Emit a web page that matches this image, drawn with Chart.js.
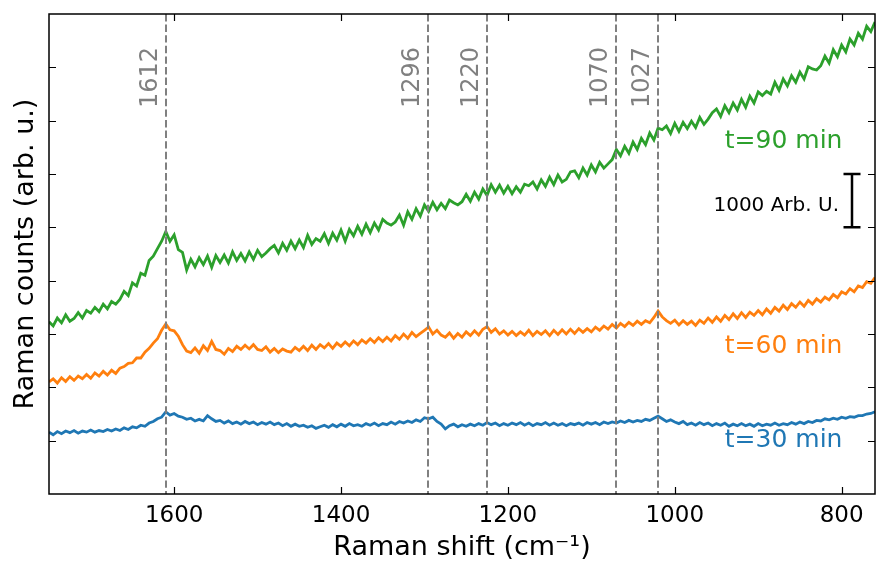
<!DOCTYPE html>
<html>
<head>
<meta charset="utf-8">
<script src="https://cdn.jsdelivr.net/npm/chart.js@4"></script>
<style>
html,body{margin:0;padding:0;background:#fff;}
#wrap{width:876px;height:564px;}
</style>
</head>
<body>
<div id="wrap"><canvas id="chart" width="876" height="564"></canvas></div>
<script>

/* DATA */

// Raman shift, cm-1 (one point every 5 cm-1)
let shift = [
1750,1745,1740,1735,1730,1725,1720,1715,1710,1705,
1700,1695,1690,1685,1680,1675,1670,1665,1660,1655,
1650,1645,1640,1635,1630,1625,1620,1615,1610,1605,
1600,1595,1590,1585,1580,1575,1570,1565,1560,1555,
1550,1545,1540,1535,1530,1525,1520,1515,1510,1505,
1500,1495,1490,1485,1480,1475,1470,1465,1460,1455,
1450,1445,1440,1435,1430,1425,1420,1415,1410,1405,
1400,1395,1390,1385,1380,1375,1370,1365,1360,1355,
1350,1345,1340,1335,1330,1325,1320,1315,1310,1305,
1300,1295,1290,1285,1280,1275,1270,1265,1260,1255,
1250,1245,1240,1235,1230,1225,1220,1215,1210,1205,
1200,1195,1190,1185,1180,1175,1170,1165,1160,1155,
1150,1145,1140,1135,1130,1125,1120,1115,1110,1105,
1100,1095,1090,1085,1080,1075,1070,1065,1060,1055,
1050,1045,1040,1035,1030,1025,1020,1015,1010,1005,
1000,995,990,985,980,975,970,965,960,955,
950,945,940,935,930,925,920,915,910,905,
900,895,890,885,880,875,870,865,860,855,
850,845,840,835,830,825,820,815,810,805,
800,795,790,785,780,775,770,765,760
];

let t30 = [
1160,1110,1170,1130,1180,1150,1190,1140,1180,1160,
1200,1160,1190,1170,1210,1180,1220,1190,1240,1210,
1260,1240,1290,1270,1330,1360,1410,1440,1540,1480,
1510,1460,1440,1400,1420,1370,1400,1370,1470,1410,
1360,1380,1330,1370,1320,1350,1310,1360,1320,1350,
1300,1340,1310,1350,1300,1330,1280,1320,1270,1310,
1270,1290,1250,1280,1230,1260,1290,1250,1300,1260,
1310,1270,1320,1280,1300,1270,1320,1290,1330,1280,
1320,1300,1350,1310,1360,1330,1370,1340,1390,1360,
1430,1410,1440,1360,1310,1220,1280,1310,1260,1300,
1270,1310,1280,1320,1290,1340,1300,1330,1280,1320,
1290,1330,1300,1340,1290,1330,1280,1320,1300,1340,
1290,1330,1290,1320,1280,1320,1300,1330,1290,1340,
1310,1340,1300,1350,1320,1350,1330,1370,1340,1380,
1350,1380,1360,1400,1380,1420,1460,1410,1360,1390,
1350,1320,1360,1300,1330,1290,1340,1300,1330,1280,
1320,1290,1330,1270,1310,1280,1320,1280,1310,1270,
1320,1280,1310,1290,1330,1290,1320,1300,1340,1310,
1350,1320,1360,1340,1380,1370,1410,1390,1420,1400,
1440,1420,1450,1440,1470,1470,1500,1510,1540
];

let t60 = [
2100,2160,2080,2180,2110,2200,2130,2210,2160,2240,
2170,2270,2210,2300,2230,2320,2260,2360,2390,2450,
2460,2550,2550,2660,2730,2830,2910,3070,3190,3080,
3060,2960,2800,2680,2650,2740,2640,2780,2690,2860,
2710,2690,2620,2730,2670,2770,2710,2790,2720,2800,
2710,2690,2760,2660,2730,2650,2720,2680,2660,2750,
2690,2770,2690,2790,2710,2800,2740,2820,2730,2830,
2770,2850,2780,2870,2800,2890,2830,2910,2840,2930,
2860,2940,2870,2970,2900,3000,2920,3030,2950,3010,
3070,3130,3000,3070,2980,2940,3020,2920,3010,2940,
3040,2970,3060,2980,3090,3140,3030,3100,3000,3060,
2980,3050,2970,3040,2980,3070,2970,3050,2990,3060,
2970,3070,2990,3080,3000,3090,3010,3100,3030,3100,
3040,3130,3070,3150,3090,3180,3110,3200,3140,3220,
3160,3240,3180,3250,3210,3310,3430,3320,3250,3200,
3260,3170,3250,3180,3240,3160,3260,3200,3300,3220,
3320,3240,3350,3270,3380,3290,3400,3310,3410,3350,
3440,3360,3470,3390,3500,3430,3540,3460,3570,3500,
3600,3520,3630,3560,3660,3600,3690,3640,3740,3680,
3790,3750,3850,3790,3900,3870,3980,3950,4060
];

let t90 = [
3230,3150,3300,3210,3360,3240,3290,3400,3300,3440,
3390,3500,3420,3560,3470,3610,3560,3650,3800,3720,
3960,3900,4140,4100,4380,4460,4600,4740,4920,4740,
4860,4580,4530,4200,4400,4260,4430,4300,4460,4250,
4470,4340,4480,4330,4540,4380,4510,4370,4540,4400,
4570,4450,4520,4600,4660,4520,4700,4570,4740,4600,
4760,4620,4850,4680,4790,4740,4880,4700,4890,4760,
4950,4740,4960,4840,5020,4870,5060,4900,5080,4950,
5150,5080,5040,5100,5230,5040,5290,5150,5350,5210,
5420,5300,5470,5330,5450,5350,5510,5460,5420,5480,
5620,5490,5660,5530,5720,5600,5800,5660,5790,5640,
5770,5630,5760,5660,5810,5780,5850,5720,5890,5770,
5940,5800,5980,5850,5900,6040,6060,5930,6110,5980,
6170,6040,6220,6110,6190,6270,6460,6340,6520,6390,
6600,6460,6670,6550,6770,6640,6860,6830,6900,6760,
6950,6800,6970,6850,6990,6870,7060,6930,7030,7150,
7220,7080,7280,7150,7330,7200,7400,7250,7460,7330,
7540,7470,7550,7500,7720,7570,7780,7650,7840,7720,
7910,7780,8010,7970,7950,8030,8210,8080,8330,8200,
8420,8290,8530,8420,8640,8530,8770,8670,8850
];

let seriesNames = ["t=30 min","t=60 min","t=90 min"];
let seriesColors = ["#1f77b4","#ff7f0e","#2ca02c"];

// marked bands: where the dashed line sits, and what its label says
let peakPos = [1610,1296,1225,1070,1020];
let peakLabels = ["1612","1296","1220","1070","1027"];

let xTicks = [800,1000,1200,1400,1600];
let yTicks = [1000,2000,3000,4000,5000,6000,7000,8000];


/* DRAWING HELPERS */

const FONT = "'DejaVu Sans', sans-serif";

let extras = {
id:"extras",
afterDatasetsDraw(chart){

let ctx = chart.ctx;
let a = chart.chartArea;
let xs = chart.scales.x;
let ys = chart.scales.y;

ctx.save();

// dashed reference lines with rotated labels
ctx.strokeStyle = "#808080";
ctx.lineWidth = 2;
ctx.setLineDash([7.4,3.2]);
peakPos.forEach((p,i)=>{
let px = Math.round(xs.getPixelForValue(p));
ctx.beginPath();
ctx.moveTo(px,a.top);
ctx.lineTo(px,a.bottom);
ctx.stroke();

ctx.save();
ctx.translate(px-9,a.top+94);
ctx.rotate(-Math.PI/2);
ctx.fillStyle = "#808080";
ctx.font = "24px " + FONT;
ctx.textAlign = "left";
ctx.textBaseline = "alphabetic";
ctx.fillText(peakLabels[i],0,0);
ctx.restore();
});
ctx.setLineDash([]);

// series labels
let labelY = [880,2640,6490];
ctx.font = "25px " + FONT;
ctx.textAlign = "left";
ctx.textBaseline = "alphabetic";
seriesNames.forEach((n,i)=>{
ctx.fillStyle = seriesColors[i];
ctx.fillText(n,xs.getPixelForValue(940),ys.getPixelForValue(labelY[i]));
});

// 1000 counts scale bar
let bx = Math.round(xs.getPixelForValue(787));
let b0 = ys.getPixelForValue(5000);
let b1 = ys.getPixelForValue(6000);
ctx.strokeStyle = "#000";
ctx.lineWidth = 2.5;
ctx.beginPath();
ctx.moveTo(bx,b0); ctx.lineTo(bx,b1);
ctx.moveTo(bx-8.5,b0); ctx.lineTo(bx+8.5,b0);
ctx.moveTo(bx-8.5,b1); ctx.lineTo(bx+8.5,b1);
ctx.stroke();
ctx.fillStyle = "#000";
ctx.font = "20px " + FONT;
ctx.textAlign = "right";
ctx.fillText("1000 Arb. U.",bx-13,ys.getPixelForValue(5306));

// frame and inward ticks on all sides
ctx.strokeStyle = "#000";
ctx.lineWidth = 1.5;
ctx.strokeRect(a.left,a.top,a.right-a.left,a.bottom-a.top);
ctx.lineWidth = 1.2;
ctx.beginPath();
xTicks.forEach(v=>{
let px = Math.round(xs.getPixelForValue(v))+0.5;
ctx.moveTo(px,a.bottom); ctx.lineTo(px,a.bottom-7);
ctx.moveTo(px,a.top); ctx.lineTo(px,a.top+7);
});
yTicks.forEach(v=>{
let py = Math.round(ys.getPixelForValue(v))+0.5;
ctx.moveTo(a.left,py); ctx.lineTo(a.left+7,py);
ctx.moveTo(a.right,py); ctx.lineTo(a.right-7,py);
});
ctx.stroke();

ctx.restore();
}
};


/* CHART */

function makePoints(vals){
return shift.map((s,i)=>({x:s,y:vals[i]}));
}

let allSeries = [t30,t60,t90];

new Chart(document.getElementById("chart"),{

type:"line",

data:{
datasets: allSeries.map((vals,i)=>({
label:seriesNames[i],
data:makePoints(vals),
borderColor:seriesColors[i],
backgroundColor:seriesColors[i],
borderWidth:2.8,
pointRadius:0,
tension:0,
fill:false
}))
},

options:{
responsive:false,
animation:false,
devicePixelRatio:1,
layout:{padding:{top:14,right:1,left:0,bottom:0}},
plugins:{legend:{display:false},tooltip:{enabled:false}},
scales:{
x:{
type:"linear",
reverse:true,
min:760,
max:1750,
grid:{display:false},
border:{display:false},
afterBuildTicks:s=>{ s.ticks = xTicks.map(v=>({value:v})); },
ticks:{color:"#000",font:{family:FONT,size:23},padding:0,maxRotation:0,autoSkip:false,callback:v=>String(v)},
title:{display:true,text:"Raman shift (cm\u207B\u00B9)",color:"#000",font:{family:FONT,size:27},padding:{top:0,bottom:0}},
afterFit:s=>{ s.height = 70; }
},
y:{
type:"linear",
min:0,
max:9000,
grid:{display:false},
border:{display:false},
afterBuildTicks:s=>{ s.ticks = yTicks.map(v=>({value:v})); },
ticks:{display:false},
title:{display:true,text:"Raman counts (arb. u.)",color:"#000",font:{family:FONT,size:27},padding:{top:10,bottom:0}},
afterFit:s=>{ s.width = 49; }
}
}
},

plugins:[extras]

});

</script>
</body>
</html>
